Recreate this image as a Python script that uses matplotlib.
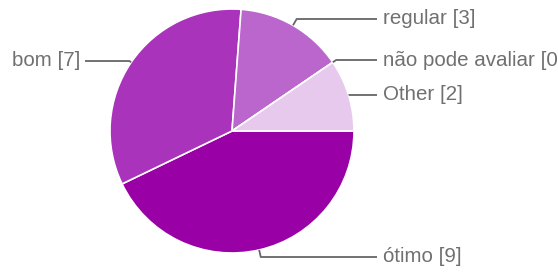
import matplotlib.pyplot as plt
import numpy as np

# dados do gráfico
categorias = ['ótimo', 'bom', 'regular', 'não pode avaliar', 'Other']
valores = [9, 7, 3, 0, 2]
cores = ['#9900a6', '#aa33bb', '#bb66cc', '#dd99dd', '#e7c9ee']

# posição vertical (em pixels) de cada rótulo e lado
rotulo_y = [257, 61, 19, 60, 95]
lado = ['dir', 'esq', 'dir', 'dir', 'dir']

W, H = 558, 274
cx, cy, raio = 232, 131, 122


def main():
    plt.rcParams['font.family'] = ['Liberation Sans', 'DejaVu Sans']
    fig = plt.figure(figsize=(W / 100, H / 100), dpi=100)
    ax = fig.add_axes([0, 0, 1, 1])

    # pizza começando às 3h, sentido horário
    wedges, _ = ax.pie(valores, colors=cores, startangle=0, counterclock=False,
                       center=(cx, H - cy), radius=raio, frame=True,
                       wedgeprops=dict(edgecolor='white', linewidth=1.2))

    for w, nome, v, ly, s in zip(wedges, categorias, valores, rotulo_y, lado):
        ang = np.deg2rad((w.theta1 + w.theta2) / 2)
        ax0 = cx + raio * np.cos(ang)
        ay0 = H - cy + raio * np.sin(ang)
        ly = H - ly
        # cotovelo na direção radial até a altura do rótulo
        s_ang = np.sin(ang)
        if abs(s_ang) > 1e-3 and (ly - ay0) / s_ang > 0:
            t = (ly - ay0) / s_ang
            ex = ax0 + t * np.cos(ang)
        else:
            ex = ax0 + (4 if s == 'dir' else -4)
        if s == 'dir':
            ax.plot([ax0, ex, 377], [ay0, ly, ly], color='#666666', lw=1.3,
                    solid_capstyle='butt')
            ax.text(383, ly, f'{nome} [{v}]', ha='left', va='center',
                    fontsize=14.8, color='#707070')
        else:
            ax.plot([ax0, ex, 85], [ay0, ly, ly], color='#666666', lw=1.3,
                    solid_capstyle='butt')
            ax.text(80, ly, f'{nome} [{v}]', ha='right', va='center',
                    fontsize=14.8, color='#707070')

    ax.set_xlim(0, W)
    ax.set_ylim(0, H)
    ax.set_aspect('equal')
    ax.axis('off')

    fig.savefig('out.png', dpi=100)


if __name__ == "__main__":
    main()
